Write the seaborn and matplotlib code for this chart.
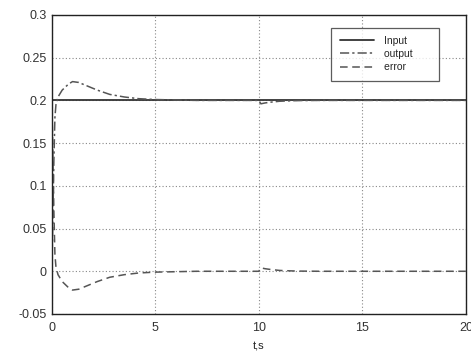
import matplotlib
matplotlib.use("Agg")
import matplotlib.pyplot as plt
import seaborn as sns
import pandas as pd

# === Data ===
t_ref = [0, 20]
input_ref = [0.2, 0.2]

t_resp = [0, 0.05, 0.1, 0.15, 0.2, 0.3, 0.5, 0.8, 1.0, 1.3, 1.7, 2.2, 2.8, 3.5, 4.2, 5,
          7, 10, 10.1, 10.3, 10.6, 11, 11.5, 12, 13, 14, 20]
output = [0, 0.06, 0.13, 0.18, 0.195, 0.204, 0.212, 0.219, 0.222, 0.221, 0.217, 0.212,
          0.207, 0.204, 0.202, 0.201, 0.2, 0.2, 0.196, 0.197, 0.198, 0.199, 0.1995,
          0.1998, 0.2, 0.2, 0.2]
error = [0.2, 0.14, 0.07, 0.02, 0.005, -0.004, -0.012, -0.019, -0.022, -0.021, -0.017,
         -0.012, -0.007, -0.004, -0.002, -0.001, 0, 0, 0.004, 0.003, 0.002, 0.001,
         0.0005, 0.0002, 0, 0, 0]

x_ticks = [0, 5, 10, 15, 20]
y_ticks = [-0.05, 0, 0.05, 0.1, 0.15, 0.2, 0.25, 0.3]
y_labels = ["-0.05", "0", "0.05", "0.1", "0.15", "0.2", "0.25", "0.3"]

# === Plot ===
sns.set_style("white")
plt.rcParams["font.family"] = ["Liberation Sans", "DejaVu Sans"]

fig = plt.figure(figsize=(4.71, 3.56), dpi=100)
ax = fig.add_axes([0.110, 0.118, 0.879, 0.840])

df_in = pd.DataFrame({"t": t_ref, "v": input_ref})
df_resp = pd.DataFrame({"t": t_resp, "out": output, "err": error})

sns.lineplot(data=df_in, x="t", y="v", ax=ax, color="#333333", lw=1.3, label="Input")
sns.lineplot(data=df_resp, x="t", y="out", ax=ax, color="#555555", lw=1.1,
             linestyle=(0, (6, 2, 1.5, 2)), label="output")
sns.lineplot(data=df_resp, x="t", y="err", ax=ax, color="#555555", lw=1.1,
             linestyle=(0, (5, 3)), label="error")

ax.set_xlim(0, 20)
ax.set_ylim(-0.05, 0.3)
ax.set_xticks(x_ticks)
ax.set_yticks(y_ticks)
ax.set_yticklabels(y_labels)
ax.tick_params(direction="in", labelsize=9, length=3, colors="#333333")
ax.tick_params(axis="x", pad=6)
ax.grid(True, linestyle=(0, (1, 2)), color="#888888", lw=0.8)
for s in ax.spines.values():
    s.set_color("#222222")
    s.set_linewidth(1.0)

ax.set_xlabel("t,s", fontsize=8, color="#222222", labelpad=5)
ax.set_ylabel("")

handles, labels = ax.get_legend_handles_labels()
leg = ax.legend(handles, [l + "      " for l in labels], loc="upper right",
                bbox_to_anchor=(0.947, 0.975), fontsize=7.5, frameon=True,
                fancybox=False, handlelength=3.3, labelspacing=0.3,
                borderpad=0.8, handletextpad=1.0)
leg.get_frame().set_edgecolor("#333333")
leg.get_frame().set_linewidth(0.9)

fig.savefig("out.png", dpi=100)
